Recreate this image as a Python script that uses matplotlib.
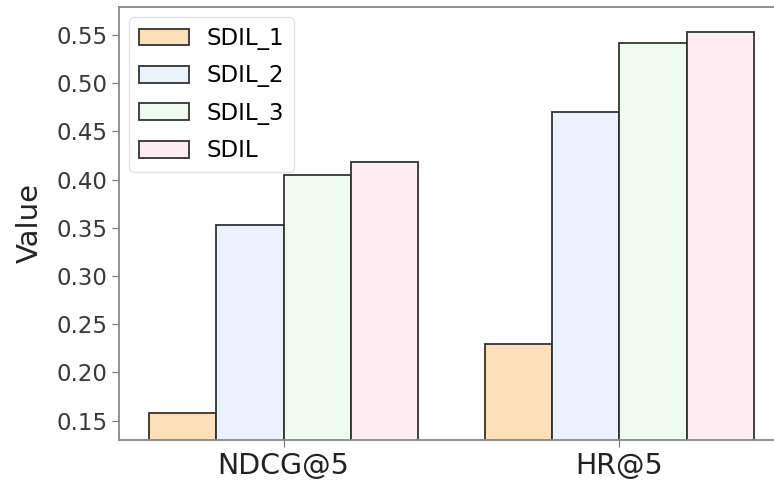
import matplotlib
matplotlib.use("Agg")
import matplotlib.pyplot as plt
import numpy as np

# data
metrics = ["NDCG@5", "HR@5"]
methods = ["SDIL_1", "SDIL_2", "SDIL_3", "SDIL"]
sdil_1 = [0.158, 0.229]
sdil_2 = [0.353, 0.470]
sdil_3 = [0.405, 0.542]
sdil = [0.418, 0.553]
colors = ["#fddfb9", "#eaf3fd", "#edfcec", "#fdedf2"]

plt.rcParams["font.family"] = "DejaVu Sans"

fig = plt.figure(figsize=(7.74, 4.86), dpi=100)
ax = fig.add_axes([0.1537, 0.0947, 0.868, 0.891])

x = np.arange(len(metrics))
width = 0.2
series = [sdil_1, sdil_2, sdil_3, sdil]
for i, (name, vals) in enumerate(zip(methods, series)):
    ax.bar(x + (i - 1.5) * width, vals, width, color=colors[i],
           edgecolor="#333333", linewidth=1.3, label=name)

ax.set_xlim(-0.49, 1.51)
ax.set_ylim(0.13, 0.579)
ax.set_yticks([0.15, 0.20, 0.25, 0.30, 0.35, 0.40, 0.45, 0.50, 0.55])
ax.set_yticklabels([f"{v:.2f}" for v in ax.get_yticks()])
ax.set_xticks(x)
ax.set_xticklabels(metrics, fontsize=20.5, color="#222222")
ax.tick_params(axis="y", labelsize=16.5, labelcolor="#383838", color="#777777", length=5)
ax.tick_params(axis="x", color="#777777", length=5)
ax.set_ylabel("Value", fontsize=21, color="#222222", labelpad=9)

for sp in ax.spines.values():
    sp.set_color("#888888")
    sp.set_linewidth(1.3)
ax.spines["right"].set_visible(False)

leg = ax.legend(loc="upper left", fontsize=16.5, frameon=True, fancybox=True,
                edgecolor="#dddddd", handlelength=2.2, handleheight=0.75,
                handletextpad=0.75, borderpad=0.42, labelspacing=0.63,
                borderaxespad=0.45)

fig.savefig("out.png", dpi=100)
